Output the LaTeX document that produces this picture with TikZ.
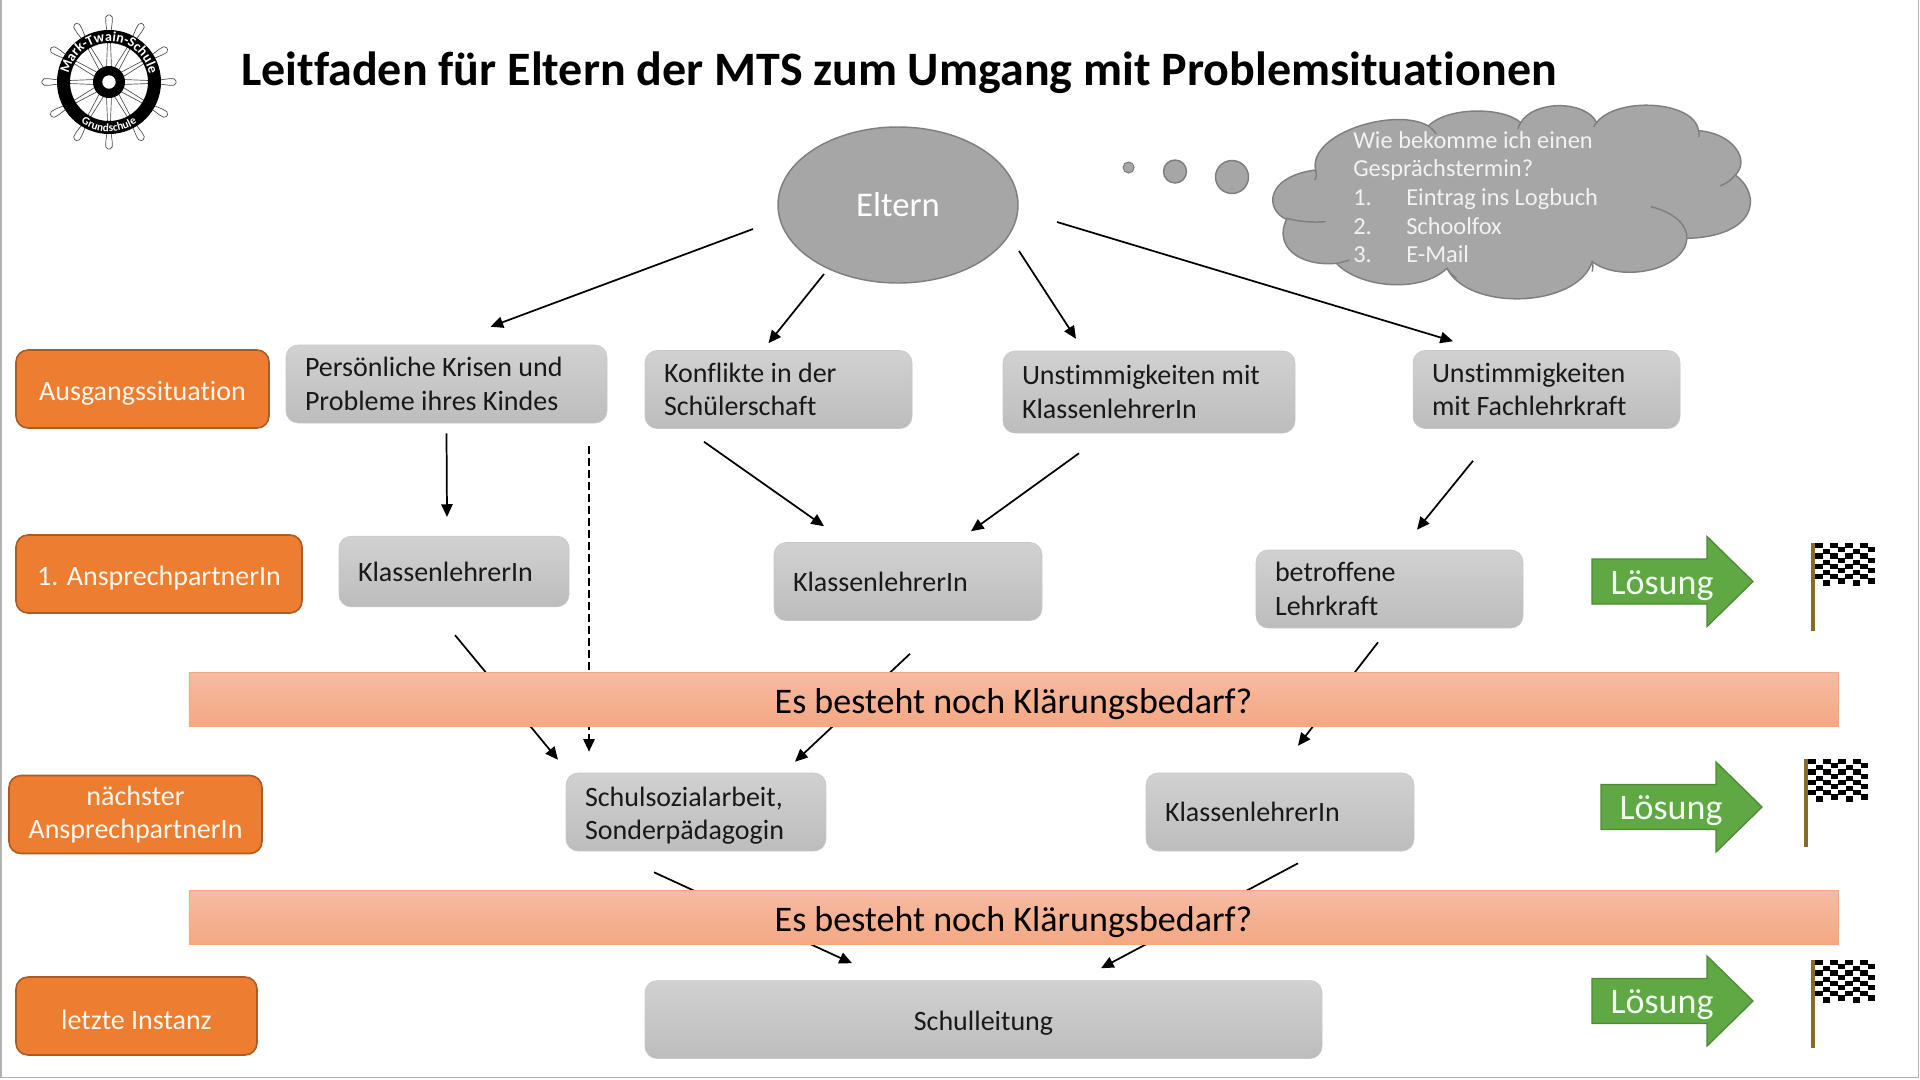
\documentclass[tikz,border=0pt]{standalone}
\usepackage{fontspec}
\setmainfont[Ligatures=NoCommon]{Carlito}
\usetikzlibrary{arrows.meta,decorations.text,shapes.geometric}
\definecolor{orangebox}{HTML}{ED7D31}
\definecolor{orangerand}{HTML}{AE5A21}
\definecolor{wolke}{HTML}{A6A6A6}
\definecolor{wolkerand}{HTML}{7F7F7F}
\definecolor{gruen}{HTML}{5FA843}
\definecolor{gruenrand}{HTML}{4E8A36}
\definecolor{stange}{HTML}{8A6A2C}
\definecolor{balkenoben}{HTML}{F5BBA4}
\definecolor{balkenunten}{HTML}{F4A882}
\tikzset{
  arrow/.style={line width=1.3pt, -{Triangle[length=9.5pt,width=8.5pt]}},
  greybox/.style={draw=black!22, rounded corners=9pt, top color=black!18, bottom color=black!26,
    text=black!90, align=flush left, inner xsep=14.25pt, inner ysep=0pt, minimum height=58.5pt,
    text width={(#1-38)*0.75pt}, font=\fontsize{21}{25.3}\selectfont},
  orangebox/.style={draw=orangerand, line width=1.2pt, rounded corners=9pt, fill=orangebox, text=white!95!orange,
    align=center, inner sep=0pt, minimum width={#1*0.75pt}, minimum height=58.5pt,
    font=\fontsize{21}{25.3}\selectfont, execute at begin node={\rule{0pt}{21pt}}},
  barbox/.style={draw=balkenunten, top color=balkenoben, bottom color=balkenunten,
    inner sep=0pt, minimum width=1237pt, minimum height=40.5pt, text=black,
    font=\fontsize{27}{30}\selectfont, execute at begin node={\rule{0pt}{26pt}}},
  wolkenstil/.style={draw=wolkerand, line width=1.1pt, fill=wolke},
  flagge/.pic={
    \draw[stange, line width=2.4pt] (0,0) -- (0,88);
    \foreach \i in {0,...,7}
      \foreach \j in {0,...,7} {
        \pgfmathparse{int(mod(\i+\j,2))}
        \ifnum\pgfmathresult=0
          \fill[black] (2+7.5*\i,{5.2*\j+sin(\i*90)}) rectangle ++(7.5,5.2);
        \fi
      }
  },
  loesung/.pic={
    \draw[gruenrand, fill=gruen, line width=1pt] (0,-22.5) -- (115,-22.5) -- (115,-45) -- (161,0)
      -- (115,45) -- (115,22.5) -- (0,22.5) -- cycle;
    \node[text=white!95!green, font=\fontsize{27}{30}\selectfont] (-text) at (70,4) {Lösung};
  }
}
\begin{document}
\begin{tikzpicture}[x=0.75pt, y=-0.75pt]
  \useasboundingbox (0,0) rectangle (1920,1079);
  % Rand
  \draw[black!30, line width=1.2pt] (0.8,0) -- (0.8,1077.5) -- (1918.5,1077.5) -- (1918.5,0);
  % Logo
  \begin{scope}[shift={(109,82)}]
    \foreach \w in {0,30,...,330} {
      \begin{scope}[rotate=\w]
        \draw[black!70, line width=0.5pt, fill=white, rounded corners=1.5pt] (50,-2) -- (62,-3.5) -- (67,-3) -- (67,3) -- (62,3.5) -- (50,2) -- cycle;
        \draw[black!70, line width=0.5pt] (14,-2.5) -- (40,-1.5) (14,2.5) -- (40,1.5);
      \end{scope}
    }
    \draw[black, line width=9.75pt] (0,0) circle (45.5);
    \fill[black] (0,0) circle (16);
    \fill[white] (0,0) circle (6.7);
    \path[decorate, decoration={text along path, text align=center, text color=white,
      text={|\fontsize{10.5}{11}\selectfont\bfseries|Mark-Twain-Schule}}]
      (180:41) arc (180:360:41);
    \path[decorate, decoration={text along path, text align=center, text color=white,
      text={|\fontsize{8.5}{9}\selectfont\bfseries|Grundschule}}]
      (150:49.5) arc (150:30:49.5);
  \end{scope}
  % Titel
  \node[font=\fontsize{36}{40}\selectfont\bfseries, text=black, inner sep=0pt] (titel) at (899,72.5) {Leitfaden für Eltern der MTS zum Umgang mit Problemsituationen};
  % Eltern
  \node[wolkenstil, ellipse, inner sep=0pt, minimum width=180pt, minimum height=117pt,
    text=white, font=\fontsize{26}{30}\selectfont] (eltern) at (898,205) {Eltern};
  % Gedankenblasen
  \draw[wolkenstil, line width=0.8pt] (1128.6,167.5) circle (5.5);
  \draw[wolkenstil] (1175,171.5) circle (11.5);
  \draw[wolkenstil] (1232,177) circle (16.5);
  % Wolke
  \begin{scope}[shift={(1100,90)}, xscale=0.4337, yscale=0.3333]
    \draw[wolkenstil] (497,240) .. controls (480,130) and (680,50) .. (757,108)
      .. controls (800,50) and (930,50) .. (970,98)
      .. controls (1000,30) and (1120,30) .. (1145,98)
      .. controls (1190,20) and (1370,30) .. (1380,122)
      .. controls (1460,130) and (1500,210) .. (1465,255)
      .. controls (1530,320) and (1510,440) .. (1353,445)
      .. controls (1350,540) and (1200,580) .. (1135,515)
      .. controls (1100,655) and (850,665) .. (800,535)
      .. controls (740,610) and (600,595) .. (545,520)
      .. controls (460,530) and (400,470) .. (430,388)
      .. controls (380,360) and (380,260) .. (497,240) -- cycle;
    \draw[wolkerand, line width=1.1pt] (430,385) .. controls (460,395) and (490,398) .. (520,395)
      (497,240) .. controls (500,250) and (500,260) .. (495,270)
      (757,108) .. controls (765,115) and (772,125) .. (775,132)
      (970,98) .. controls (966,105) and (964,112) .. (964,118)
      (1145,98) .. controls (1143,102) and (1140,106) .. (1138,110)
      (1380,122) .. controls (1382,130) and (1382,136) .. (1380,142)
      (1465,255) .. controls (1455,270) and (1445,280) .. (1430,288)
      (1353,445) .. controls (1355,410) and (1330,370) .. (1270,350)
      (1135,515) .. controls (1137,525) and (1137,535) .. (1135,545)
      (800,535) .. controls (805,545) and (812,555) .. (822,565)
      (545,520) .. controls (555,518) and (565,515) .. (575,510);
  \end{scope}
  \node[text=white!95!black, font=\fontsize{18.3}{21.5}\selectfont, align=left, anchor=north west, inner sep=0pt] (wolkentext) at (1353,131) {Wie bekomme ich einen\\Gesprächstermin?\\\makebox[39.75pt][l]{1.}Eintrag ins Logbuch\\\makebox[39.75pt][l]{2.}Schoolfox\\\makebox[39.75pt][l]{3.}E-Mail};
  % Zeilen links
  \node[orangebox=253] (ausgang) at (142.5,389) {Ausgangssituation};
  \node[orangebox=286] (erster) at (159,574) {1. AnsprechpartnerIn};
  \node[orangebox=253, execute at begin node={\rule{0pt}{26pt}}] (naechster) at (135.5,814.5) {nächster\\AnsprechpartnerIn};
  \node[orangebox=241] (letzte) at (136.5,1016) {letzte Instanz};
  % Kaesten
  \node[greybox=321] (krisen) at (446.5,384) {Persönliche Krisen und\\Probleme ihres Kindes};
  \node[greybox=267] (konflikte) at (778.5,389.5) {Konflikte in der\\Schülerschaft};
  \node[greybox=292, minimum height=61.5pt] (unstimmig) at (1149,392) {Unstimmigkeiten mit\\KlassenlehrerIn};
  \node[greybox=267] (fach) at (1546.5,389.5) {Unstimmigkeiten\\mit Fachlehrkraft};
  \node[greybox=230, minimum height=53pt] (lehrer) at (454,571.5) {KlassenlehrerIn};
  \node[greybox=268] (lehrerb) at (908,581.5) {KlassenlehrerIn};
  \node[greybox=267] (betroffen) at (1389.5,589) {betroffene\\Lehrkraft};
  \node[greybox=260, execute at begin node={\rule{0pt}{20pt}}] (sozial) at (696,812) {Schulsozialarbeit,\\Sonderpädagogin};
  \node[greybox=268] (lehrerc) at (1280,812) {KlassenlehrerIn};
  \node[greybox=677, align=flush center, execute at begin node={\rule{0pt}{20pt}}] (leitung) at (983.5,1019.5) {Schulleitung};
  % Pfeile
  \draw[arrow] ([shift={(-145,24)}]eltern.center) -- ([shift={(44,-18)}]krisen.north);
  \draw[arrow] ([shift={(-74,69)}]eltern.center) -- ([shift={(-10,-7)}]konflikte.north);
  \draw[arrow] ([shift={(121,46)}]eltern.center) -- ([shift={(-73,-12)}]unstimmig.north);
  \draw[arrow] ([shift={(159,17)}]eltern.center) -- ([shift={(-93.5,-9)}]fach.north);
  \draw[arrow] ([shift={(0,10)}]krisen.south) -- ([shift={(-7,-19)}]lehrer.north);
  \draw[arrow, dash pattern=on 5.5pt off 3.5pt] ([shift={(142.5,23)}]krisen.south) -- ([shift={(-107,-21)}]sozial.north);
  \draw[arrow] ([shift={(-74.5,13)}]konflikte.south) -- ([shift={(-84,-16)}]lehrerb.north);
  \draw[arrow] ([shift={(-70,20)}]unstimmig.south) -- ([shift={(63,-11)}]lehrerb.north);
  \draw[arrow] ([shift={(-73.5,32)}]fach.south) -- ([shift={(27.5,-20)}]betroffen.north);
  \draw[arrow] ([shift={(1,28)}]lehrer.south) -- ([shift={(-138,-13)}]sozial.north);
  \draw[arrow] ([shift={(2,33)}]lehrerb.south) -- ([shift={(99,-11)}]sozial.north);
  \draw[arrow] ([shift={(-11.5,14)}]betroffen.south) -- ([shift={(18,-27)}]lehrerc.north);
  \draw[arrow] ([shift={(-42,21)}]sozial.south) -- ([shift={(-131.5,-17)}]leitung.north);
  \draw[arrow] ([shift={(18,12)}]lehrerc.south) -- ([shift={(117.5,-12)}]leitung.north);
  % Balken
  \node[barbox] (bedarfa) at (1013.5,699) {Es besteht noch Klärungsbedarf?};
  \node[barbox] (bedarfb) at (1013.5,917) {Es besteht noch Klärungsbedarf?};
  % Loesung und Flaggen
  \pic (loesa) at (1592,581.5) {loesung};
  \pic (loesb) at (1601,807) {loesung};
  \pic (loesc) at (1592,1001) {loesung};
  \pic (flaga) at (1813,543) {flagge};
  \pic (flagb) at (1806,759) {flagge};
  \pic (flagc) at (1813,960) {flagge};
\end{tikzpicture}
\end{document}
